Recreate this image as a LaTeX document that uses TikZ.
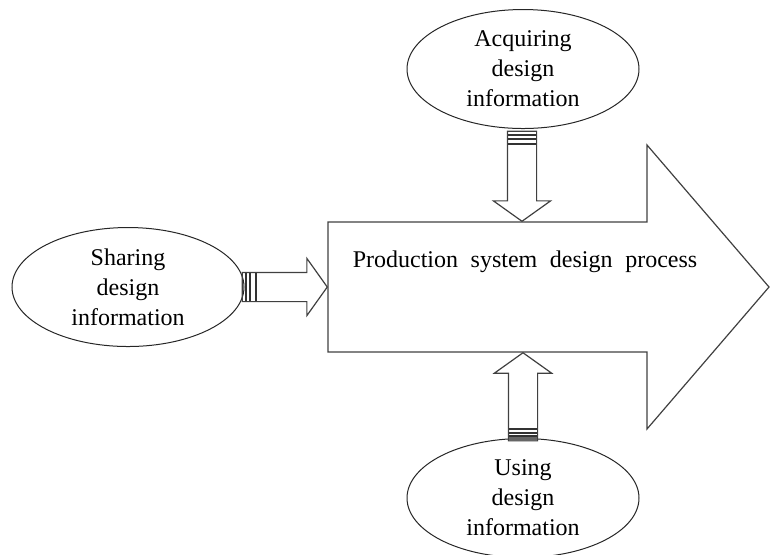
\documentclass[tikz,border=0pt]{standalone}
\usepackage{fontspec}
\setmainfont{Liberation Serif}
\newfontfamily\procfont[WordSpace=2.1]{Liberation Serif}
\usetikzlibrary{shapes.geometric, shapes.arrows, calc}

\begin{document}
\begin{tikzpicture}[x=0.5pt, y=-0.5pt,
  info/.style={ellipse, draw=black!85, line width=0.5pt, minimum width=116pt, minimum height=59.5pt, inner sep=0pt, align=center, font=\fontsize{12}{15}\selectfont},
  feed/.style={single arrow, draw=black!75, line width=0.6pt, single arrow head extend=7pt, single arrow tip angle=109, single arrow head indent=0pt, inner xsep=0pt, inner ysep=7pt},
  stripe/.style={draw=black!80, line width=0.9pt}]
\useasboundingbox (0,0) rectangle (771,554);

% process arrow
\coordinate (bl) at (328,287);
\coordinate (bt) at (522,222);
\coordinate (bb) at (523,352);
\draw[black!75, line width=0.6pt] (328,222) -- (647,222) -- (647,145) -- (769,287) -- (647,429) -- (647,352) -- (328,352) -- cycle;
\node[font=\procfont\fontsize{12}{15}\selectfont] (proc) at (525,262) {Production system design process};

% information ellipses
\node[info] (share) at (128,287) {Sharing\\design\\information};
\node[info] (acq) at (523,69) {Acquiring\\design\\information};
\node[info] (use) at (523,498) {Using\\design\\information};

% feed arrows into the process
\node[feed, minimum height=42.5pt, anchor=tip] (sharearr) at (bl) {};
\node[feed, minimum height=45pt, rotate=-90, anchor=tip] (acqarr) at (bt) {};
\node[feed, minimum height=44pt, rotate=90, anchor=tip] (usearr) at (bb) {};

% striped tails
\foreach \d in {4,8,14}
  \draw[stripe] ($(sharearr.tail)+(\d,-14)$) -- ++(0,28);
\foreach \d in {4,8,13}
  \draw[stripe] ($(acqarr.tail)+(-14,\d)$) -- ++(28,0);
\fill[black!60] ($(usearr.tail)+(-14,0)$) rectangle ++(28,-5);
\foreach \d in {5,8,12}
  \draw[stripe] ($(usearr.tail)+(-14,-\d)$) -- ++(28,0);
\end{tikzpicture}
\end{document}
